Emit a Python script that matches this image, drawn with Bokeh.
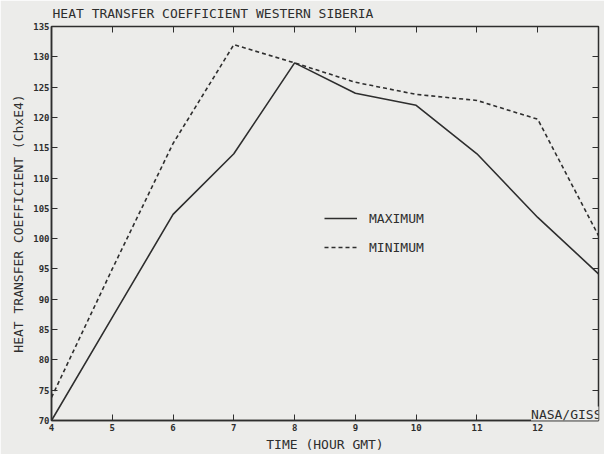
from bokeh.plotting import figure
from bokeh.models import (FixedTicker, LinearAxis, Legend, LegendItem, Label, Range1d,
                          CustomLabelingPolicy)
from bokeh.embed import file_html
from bokeh.resources import INLINE

hours = [4, 5, 6, 7, 8, 9, 10, 11, 12, 13]
maximum = [70, 87, 104, 114, 129, 124, 122, 114, 103.5, 94.2]
minimum = [73.8, 95, 115.7, 132, 129, 125.8, 123.8, 122.8, 119.7, 100.5]
x_ticks = [4, 5, 6, 7, 8, 9, 10, 11, 12]
y_ticks = [70, 75, 80, 85, 90, 95, 100, 105, 110, 115, 120, 125, 130, 135]

INK = "#2e2e2e"
BG = "#ececea"
FONT = "DejaVu Sans Mono"

p = figure(width=604, height=454, output_backend="svg", toolbar_location=None,
           x_range=Range1d(4, 13), y_range=Range1d(70, 135),
           min_border_left=51, min_border_right=6, min_border_top=26, min_border_bottom=34)
p.background_fill_color = BG
p.border_fill_color = BG
p.outline_line_color = INK
p.outline_line_width = 1.5
p.grid.visible = False

p.title.text = "HEAT TRANSFER COEFFICIENT WESTERN SIBERIA"
p.title.text_font = FONT
p.title.text_font_size = "13px"
p.title.text_font_style = "normal"
p.title.text_color = INK
p.title.offset = 1
p.title.standoff = 7
p.title.vertical_align = "top"

for ax in [p.xaxis[0], p.yaxis[0]]:
    ax.axis_line_color = INK
    ax.axis_line_width = 1.5
    ax.major_tick_line_color = INK
    ax.major_tick_in = 6
    ax.major_tick_out = 0
    ax.minor_tick_line_color = None
    ax.major_label_text_font = FONT
    ax.major_label_text_font_size = "9px"
    ax.major_label_text_color = INK
    ax.major_label_text_font_style = "bold"
    ax.axis_label_text_font = FONT
    ax.axis_label_text_font_style = "normal"
    ax.axis_label_text_color = INK

p.xaxis[0].ticker = FixedTicker(ticks=x_ticks)
p.yaxis[0].ticker = FixedTicker(ticks=y_ticks)
p.xaxis[0].axis_label = "TIME (HOUR GMT)"
p.xaxis[0].axis_label_text_font_size = "13px"
p.xaxis[0].axis_label_standoff = 3
p.xaxis[0].major_label_standoff = 3
p.yaxis[0].axis_label = "HEAT TRANSFER COEFFICIENT (ChxE4)"
p.yaxis[0].axis_label_text_font_size = "13px"
p.yaxis[0].axis_label_standoff = 4
p.yaxis[0].major_label_standoff = 2

hide_js = """
if (typeof indices.clear === 'function') { indices.clear(); return indices }
for (const i of Array.from(indices.ones())) { indices.unset(i) }
return indices
"""

top = LinearAxis(ticker=FixedTicker(ticks=x_ticks),
                 major_label_policy=CustomLabelingPolicy(code=hide_js),
                 major_label_text_font_size="0px",
                 major_tick_in=6, major_tick_out=0, minor_tick_line_color=None,
                 axis_line_color=None, major_tick_line_color=INK, major_label_standoff=0)
right = LinearAxis(ticker=FixedTicker(ticks=y_ticks),
                   major_label_policy=CustomLabelingPolicy(code=hide_js),
                   major_label_text_font_size="0px",
                   major_tick_in=6, major_tick_out=0, minor_tick_line_color=None,
                   axis_line_color=None, major_tick_line_color=INK, major_label_standoff=0)
p.add_layout(top, "above")
p.add_layout(right, "right")

r_max = p.line(hours, maximum, line_color=INK, line_width=1.6)
r_min = p.line(hours, minimum, line_color=INK, line_width=1.6, line_dash="4 3")

legend = Legend(items=[LegendItem(label="MAXIMUM", renderers=[r_max]),
                       LegendItem(label="MINIMUM", renderers=[r_min])],
                location=(273, 163), orientation="vertical")
legend.background_fill_alpha = 0
legend.border_line_color = None
legend.label_text_font = FONT
legend.label_text_font_size = "13px"
legend.label_text_color = INK
legend.glyph_width = 33
legend.label_standoff = 12
legend.spacing = 9
p.add_layout(legend, "center")

p.add_layout(Label(x=13, y=70, text="NASA/GISS", text_font=FONT, text_font_size="13px",
                   text_color=INK, text_align="right", text_baseline="bottom",
                   x_offset=3, y_offset=-1, background_fill_color=BG))

open("out.html", "w").write(file_html(p, INLINE))
